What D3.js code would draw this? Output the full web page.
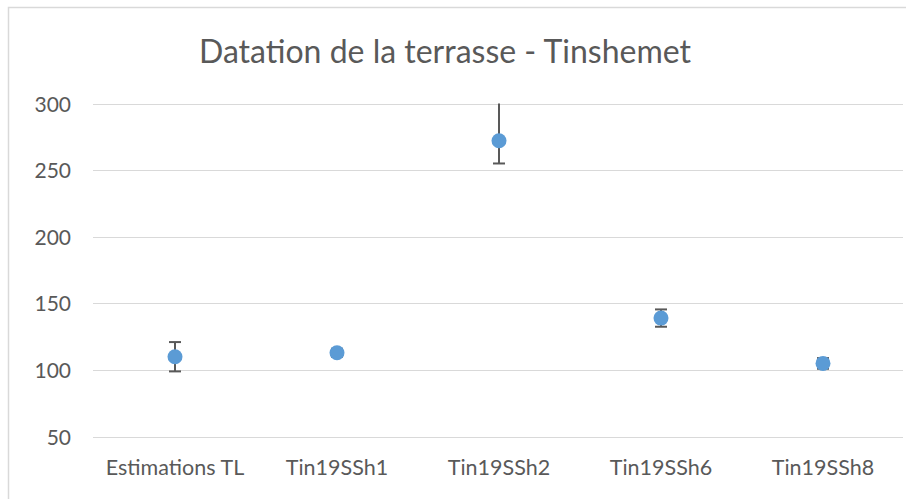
<!DOCTYPE html>
<html>
<head>
<meta charset="utf-8">
<script src="https://cdn.jsdelivr.net/npm/d3@7"></script>
<style>
  html, body { margin: 0; padding: 0; background: #fff; }
  svg { display: block; }
  text { font-family: Lato, "Open Sans", sans-serif; fill: #595959; }
</style>
</head>
<body>
<svg id="chart" width="906" height="499"></svg>
<script>
// Samples and their ages (ka), with error bar extents
const categories = ["Estimations TL", "Tin19SSh1", "Tin19SSh2", "Tin19SSh6", "Tin19SSh8"];
const ages       = [110, 113, 272, 139, 105];
const errPlus    = [11, 3, 35, 6.5, 4];
const errMinus   = [11, 3, 17, 6.5, 4];
const yTicks     = [50, 100, 150, 200, 250, 300];
const title      = "Datation de la terrasse - Tinshemet";

const svg = d3.select("#chart");
const plot = { left: 94, right: 904, top: 103.5, bottom: 436.7 };

// chart frame
svg.append("rect")
  .attr("x", 8.5).attr("y", 7.5)
  .attr("width", 920).attr("height", 520)
  .attr("fill", "#fff").attr("stroke", "#d9d9d9").attr("stroke-width", 1.5);

const x = d3.scaleBand().domain(categories).range([plot.left, plot.right]).padding(0);
const y = d3.scaleLinear().domain([50, 300]).range([plot.bottom, plot.top]);

// horizontal gridlines
svg.append("g").selectAll("line").data(yTicks).join("line")
  .attr("x1", plot.left - 1).attr("x2", plot.right - 1)
  .attr("y1", d => Math.round(y(d)) + 0.5).attr("y2", d => Math.round(y(d)) + 0.5)
  .attr("stroke", "#d9d9d9").attr("stroke-width", 1);

// y axis labels
const yAxis = d3.axisLeft(y).tickValues(yTicks).tickSize(0).tickPadding(0);
const gy = svg.append("g").attr("transform", `translate(71,0)`).call(yAxis);
gy.select(".domain").remove();
gy.selectAll("text").style("font-size", "21px").attr("fill", "#595959")
  .style("font-family", "Lato, 'Open Sans', sans-serif").attr("dy", "0.36em");

// x axis labels
const xAxis = d3.axisBottom(x).tickSize(0).tickPadding(0);
const gx = svg.append("g").attr("transform", `translate(0,${plot.bottom + 23})`).call(xAxis);
gx.select(".domain").remove();
gx.selectAll("text").style("font-size", "21.5px").attr("fill", "#595959")
  .style("font-family", "Lato, 'Open Sans', sans-serif");

// title
svg.append("text")
  .attr("x", 445).attr("y", 63)
  .attr("text-anchor", "middle")
  .style("font-size", "32px")
  .text(title);

const data = categories.map((c, i) => ({ c, v: ages[i], hi: ages[i] + errPlus[i], lo: ages[i] - errMinus[i] }));
const [yMin, yMax] = y.domain();
const cx = d => x(d.c) + x.bandwidth() / 2;

// error bars (clipped to the plot range; no cap when clipped)
const eb = svg.append("g").attr("stroke", "#595959").attr("stroke-width", 2);
data.forEach(d => {
  const hi = Math.min(d.hi, yMax), lo = Math.max(d.lo, yMin);
  eb.append("line").attr("x1", cx(d)).attr("x2", cx(d)).attr("y1", y(hi)).attr("y2", y(lo));
  if (d.hi <= yMax)
    eb.append("line").attr("x1", cx(d) - 6).attr("x2", cx(d) + 6).attr("y1", y(d.hi)).attr("y2", y(d.hi));
  if (d.lo >= yMin)
    eb.append("line").attr("x1", cx(d) - 6).attr("x2", cx(d) + 6).attr("y1", y(d.lo)).attr("y2", y(d.lo));
});

// markers
svg.append("g").selectAll("circle").data(data).join("circle")
  .attr("cx", cx).attr("cy", d => y(d.v)).attr("r", 7.5)
  .attr("fill", "#5b9bd5");
</script>
</body>
</html>
